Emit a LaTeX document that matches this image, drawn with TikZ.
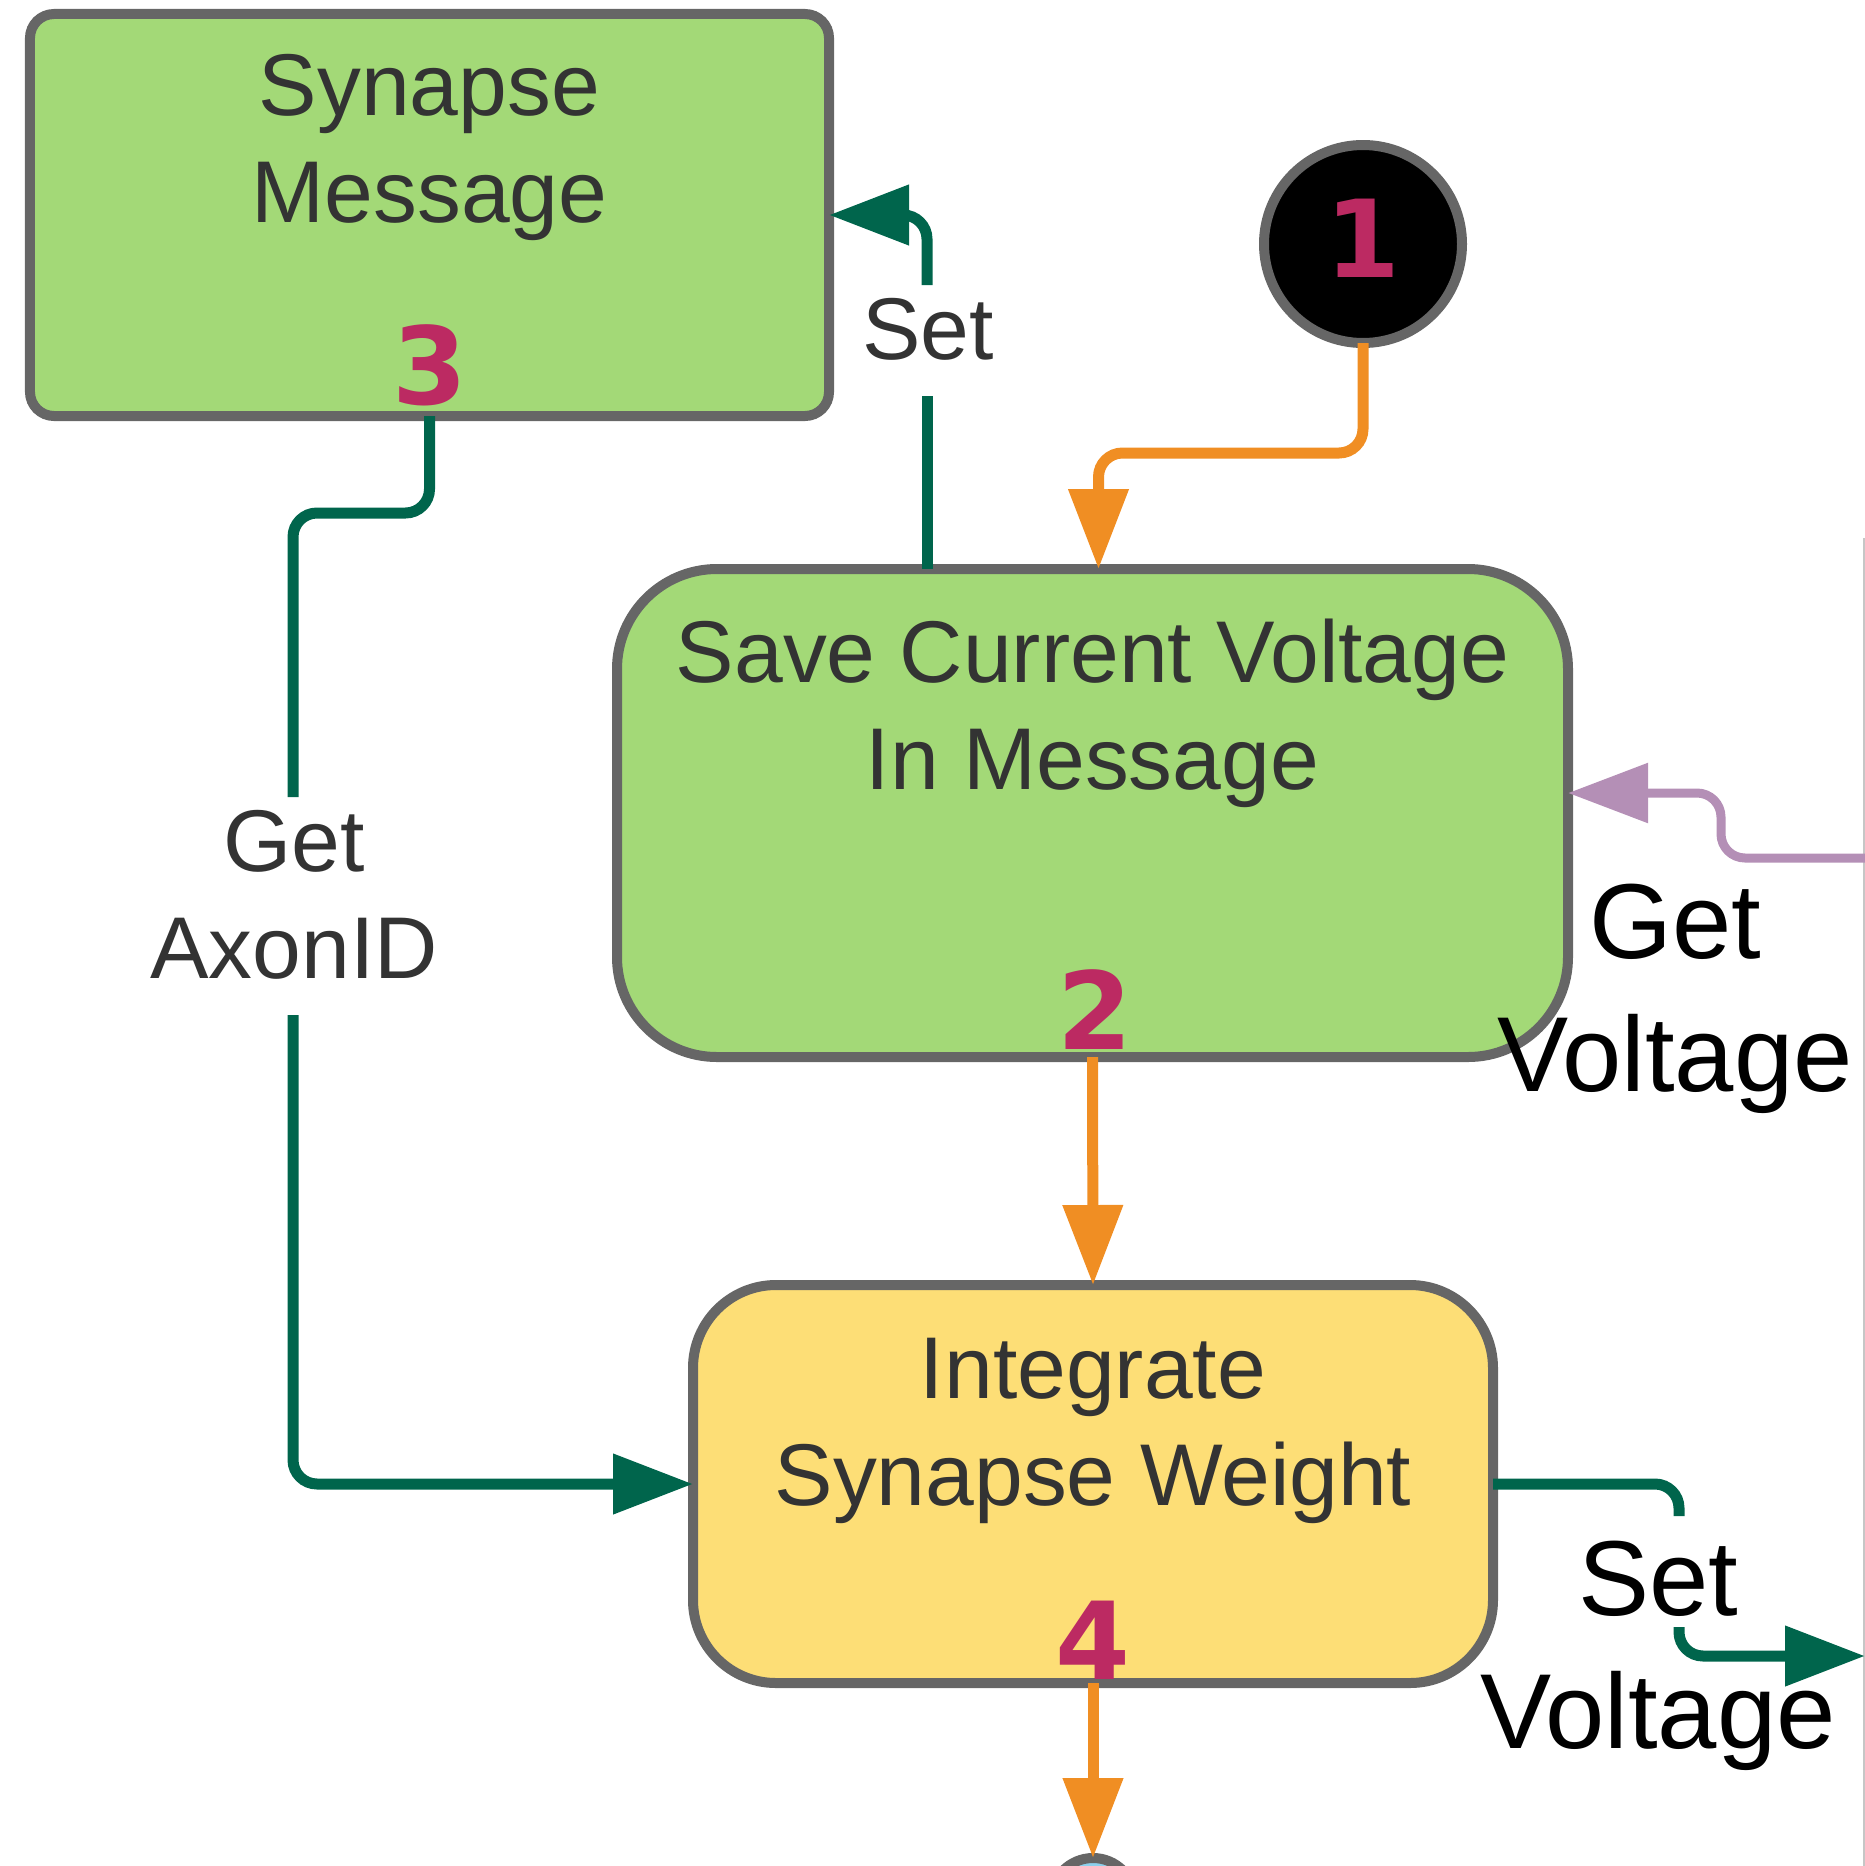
\documentclass[tikz,border=0pt]{standalone}
\usepackage{fontspec}
\setmainfont{Liberation Sans}
\newfontfamily\numfont{DejaVu Sans}
\usetikzlibrary{arrows.meta,positioning}

\definecolor{edgegray}{HTML}{666666}
\definecolor{leafgreen}{HTML}{A3D977}
\definecolor{sunyellow}{HTML}{FDDE76}
\definecolor{numpink}{HTML}{BC2A62}
\definecolor{floworange}{HTML}{F08E23}
\definecolor{datagreen}{HTML}{00654C}
\definecolor{querypurple}{HTML}{B48FB6}
\definecolor{darktext}{HTML}{333333}
\definecolor{endblue}{HTML}{8DD0EC}

\begin{document}
\begin{tikzpicture}[x=1bp, y=-1bp,
    box/.style={rectangle,draw=edgegray,line width=10bp,outer sep=0pt},
    msg box/.style={box,fill=leafgreen,rounded corners=24bp,minimum width=799bp,minimum height=402bp},
    save box/.style={box,fill=leafgreen,rounded corners=100bp,minimum width=951bp,minimum height=488bp},
    int box/.style={box,fill=sunyellow,rounded corners=83bp,minimum width=800bp,minimum height=398bp},
    dot/.style={circle,draw=edgegray,line width=10bp,outer sep=0pt},
    num/.style={font=\numfont\bfseries\fontsize{108}{108}\selectfont,text=numpink,inner sep=0pt},
    txt/.style={font=\fontsize{88}{107}\selectfont,text=darktext,align=center,anchor=base,inner sep=0pt},
    big txt/.style={font=\fontsize{107}{133}\selectfont,text=black,align=center,anchor=base,inner sep=0pt},
    tip/.style={-{Triangle[length=80bp,width=58bp]}},
    wire/.style={line width=11bp,rounded corners=24bp},
    flow/.style={wire,draw=floworange,tip},
    data/.style={wire,draw=datagreen},
    query/.style={wire,line width=9bp,draw=querypurple,tip}]

    \useasboundingbox (0,0) rectangle (1865,1866);

    \node[msg box] (synmsg) at (429.5,215) {};
    \node[save box] (save) at (1092.5,813) {};
    \node[int box] (integ) at (1093,1484) {};
    \node[dot,fill=black,minimum size=198bp] (start) at (1363,244) {};
    \node[dot,fill=endblue,minimum size=84bp] (stop) at (1093,1900) {};

    % gaps left for the labels
    \coordinate (setA) at (927,396);
    \coordinate (setB) at (927,285);
    \coordinate (axA) at (293,797);
    \coordinate (axB) at (293,1015);
    \coordinate (svA) at (1679,1516);
    \coordinate (svB) at (1679,1627);
    \coordinate (edgeA) at (1865,858);
    \coordinate (edgeB) at (1865,1656);

    \draw[gray!45,line width=2bp] (1864,538) -- (1864,1866);

    \draw[flow] (start.south) -- ++(0,110) -| ([xshift=6bp]save.north);
    \draw[flow] (save.south) -- (integ.north);
    \draw[flow] (integ.south) -- (stop.north);
    \draw[data] (save.north -| setA) -- (setA);
    \draw[data,tip] (setB) |- (synmsg.east);
    \draw[data] (synmsg.south) -- ++(0,97) -| (axA);
    \draw[data,tip] (axB) |- (integ.west);
    \draw[query] (edgeA) -- ++(-144,0) |- ([yshift=20bp]save.east);
    \draw[data] (integ.east) -| (svA);
    \draw[data,tip] (svB) |- (edgeB);

    \node[txt] at (429.5,222) {Synapse\\Message};
    \node[txt] at (1092.5,789) {Save Current Voltage\\In Message};
    \node[txt] at (1093,1505) {Integrate\\Synapse Weight};

    \node[txt] (setlbl) at (928,359) {Set};
    \node[txt] (axonlbl) at (294,978) {Get\\AxonID};
    \node[big txt] (getvlbl) at (1675,1091) {Get\\Voltage};
    \node[big txt] (setvlbl) at (1658,1748) {Set\\Voltage};

    \node[num] (n1) at (1363,238) {1};
    \node[num] (n2) at (1095,1010) {2};
    \node[num] (n3) at (430,365) {3};
    \node[num] (n4) at (1093,1640) {4};
\end{tikzpicture}
\end{document}
